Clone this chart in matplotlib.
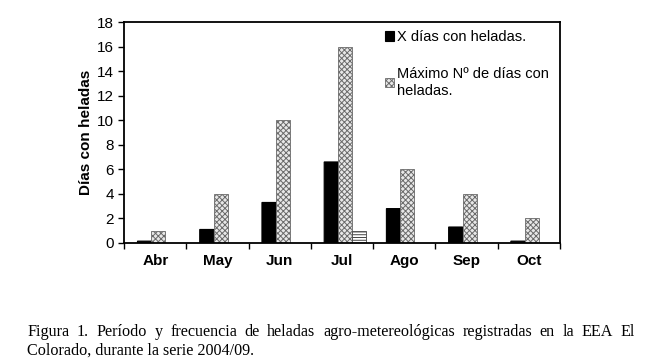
import numpy as np
import matplotlib.pyplot as plt

# ==============================
# DATA
# ==============================
months = ["Abr", "May", "Jun", "Jul", "Ago", "Sep", "Oct"]
mean_days = [0.15, 1.1, 3.3, 6.6, 2.8, 1.3, 0.15]
max_days = [1, 4, 10, 16, 6, 4, 2]
other_days = [0, 0, 0, 1, 0, 0, 0]

caption1 = "Figura 1. Período y frecuencia de heladas agro-metereológicas registradas en la EEA El"
caption2 = "Colorado, durante la serie 2004/09."

plt.rcParams['font.family'] = ['Liberation Sans', 'DejaVu Sans']
plt.rcParams['hatch.linewidth'] = 0.7

fig = plt.figure(figsize=(6.61, 3.61), dpi=100)
ax = fig.add_axes([0.188, 0.327, 0.659, 0.612])

x = np.arange(len(months))
w = 0.225
ax.bar(x - w + 0.05, mean_days, w, color='black', edgecolor='black', linewidth=0.8,
       snap=False, label='X días con heladas.')
ax.bar(x + 0.05, max_days, w, color='#e8e8e8', edgecolor='#6a6a6a', hatch='xxxxxx',
       linewidth=0.6, label='Máximo Nº de días con\nheladas.')
ax.bar(x + w + 0.05, other_days, w, color='white', edgecolor='#444444', hatch='------',
       linewidth=0.6)

ax.set_xlim(-0.5, len(months) - 0.5)
ax.set_ylim(0, 18)
ax.set_yticks(range(0, 19, 2))
ax.set_xticks(x)
ax.set_xticklabels(months, fontweight='bold', fontsize=11)
ax.set_xticks(np.arange(-0.5, len(months), 1), minor=True)
ax.tick_params(axis='x', which='major', length=0, pad=8)
ax.tick_params(axis='x', which='minor', length=4, direction='out', width=1)
ax.tick_params(axis='y', length=4, direction='out', labelsize=11, width=1)
for s in ax.spines.values():
    s.set_linewidth(1.3)
ax.set_ylabel("Días con heladas", fontweight='bold', fontsize=11, labelpad=3)

leg = ax.legend(loc='upper left', bbox_to_anchor=(0.575, 1.01), frameon=False,
                fontsize=10.5, handlelength=0.6, handleheight=0.6, handletextpad=0.2,
                labelspacing=1.6, borderaxespad=0.3)

# ==============================
# CAPTION (first line justified)
# ==============================
x0, x1 = 27 / 661, 635 / 661
y_1, y_2 = 1 - 336 / 361, 1 - 355 / 361
cap_font = dict(family='Liberation Serif', fontsize=11.6, va='baseline')

words = caption1.split(" ")
texts = [fig.text(0, y_1, wd, **cap_font) for wd in words]
fig.canvas.draw()
r = fig.canvas.get_renderer()
fw = fig.bbox.width
widths = [t.get_window_extent(r).width / fw for t in texts]
gap = (x1 - x0 - sum(widths)) / (len(words) - 1)
pos = x0
for t, wd in zip(texts, widths):
    t.set_x(pos)
    pos += wd + gap
fig.text(x0, y_2, caption2, **cap_font)

fig.savefig("out.png", dpi=100)
